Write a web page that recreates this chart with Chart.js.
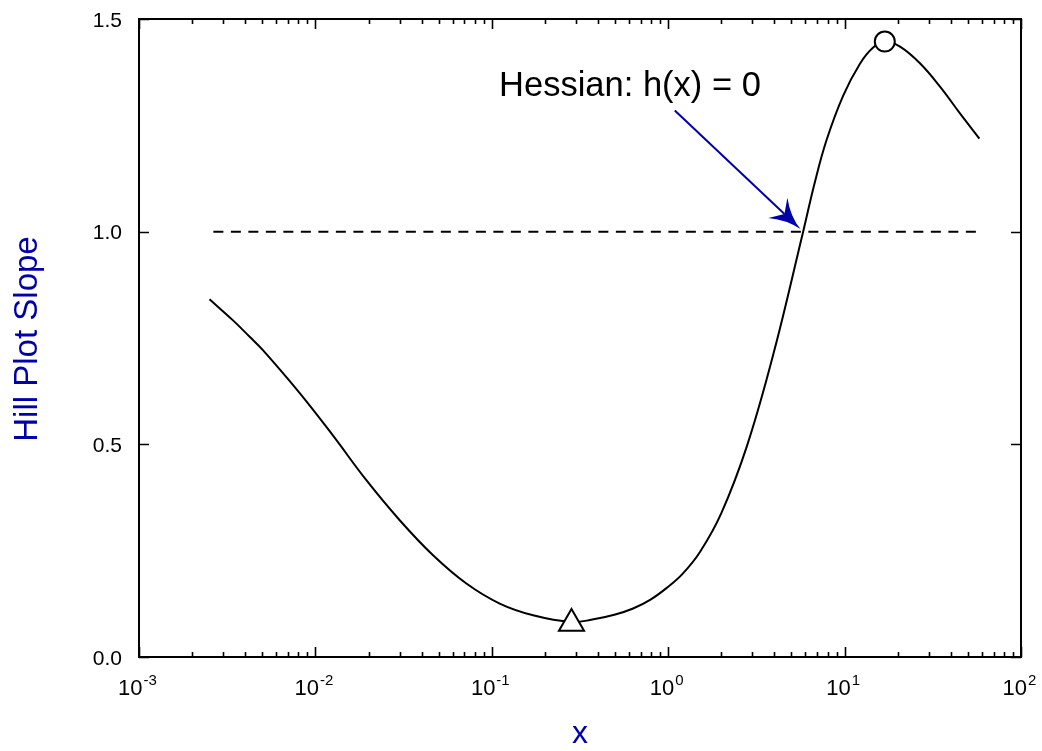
<!DOCTYPE html>
<html>
<head>
<meta charset="utf-8">
<script src="https://cdn.jsdelivr.net/npm/chart.js@4.4.1/dist/chart.umd.min.js"></script>
<style>
  html, body { margin: 0; padding: 0; background: #fff; }
  #wrap { width: 1042px; height: 751px; }
</style>
</head>
<body>
<div id="wrap"><canvas id="myChart" width="1042" height="751"></canvas></div>
<script>
// curve (x on log axis)
const xValues = [0.00251, 0.0034, 0.00424, 0.00504, 0.00813, 0.01256, 0.01945, 0.03006, 0.04645, 0.07178,
                 0.1109, 0.1714, 0.2831, 0.3715, 0.501, 0.6324, 0.794, 0.977, 1.202, 1.514,
                 1.995, 2.80, 3.98, 5.82, 6.76, 7.91, 9.82, 12.22, 14.52, 16.94,
                 20.61, 26.73, 34.75, 45.08, 58.08];
const yValues = [0.841, 0.792, 0.753, 0.7215, 0.621, 0.521, 0.4157, 0.3216, 0.2392, 0.1727,
                 0.1256, 0.0981, 0.0823, 0.088, 0.100, 0.114, 0.135, 0.162, 0.195, 0.247,
                 0.337, 0.497, 0.718, 1.000, 1.114, 1.216, 1.320, 1.395, 1.433, 1.447,
                 1.435, 1.396, 1.341, 1.278, 1.219];

// dashed reference line h = 1
const refX = [0.00264, 58.5];
const refY = [1.0, 1.0];

// markers
const minPoint = [0.283, 0.079];
const maxPoint = [16.9, 1.447];

// axes
const xTicks = [0.001, 0.01, 0.1, 1, 10, 100];
const xExponents = ['-3', '-2', '-1', '0', '1', '2'];
const yTicks = [0.0, 0.5, 1.0, 1.5];
const yTickLabels = ['0.0', '0.5', '1.0', '1.5'];

// annotation
const noteText = 'Hessian: h(x) = 0';
const notePos = [0.11, 1.32];
const arrowFrom = [1.09, 1.285];
const arrowTo = [5.62, 1.006];

const xTitle = 'x';
const yTitle = 'Hill Plot Slope';

const FONT = '"Liberation Sans", Arial, Helvetica, sans-serif';
const BLUE = '#0000a8';

function pts(xs, ys) {
    return xs.map(function(x, i){ return {x: x, y: ys[i]}; });
}

const decorations = {
    id: 'decorations',
    afterDatasetsDraw(chart) {
        const ctx = chart.ctx;
        const a = chart.chartArea;
        const xs = chart.scales.x;
        const ys = chart.scales.y;
        ctx.save();

        // frame
        ctx.strokeStyle = '#000';
        ctx.lineWidth = 2;
        ctx.strokeRect(a.left, a.top, a.right - a.left, a.bottom - a.top);

        // x ticks (major + minor), bottom and top, inward
        ctx.lineWidth = 1.6;
        ctx.beginPath();
        for (let d = -3; d <= 2; d++) {
            for (let k = 1; k <= 9; k++) {
                if (d === 2 && k > 1) break;
                const v = k * Math.pow(10, d);
                const px = Math.round(xs.getPixelForValue(v)) + 0.5;
                const len = (k === 1) ? 10 : 5;
                ctx.moveTo(px, a.bottom);
                ctx.lineTo(px, a.bottom - len);
                ctx.moveTo(px, a.top);
                ctx.lineTo(px, a.top + len);
            }
        }
        // y ticks, left and right
        yTicks.forEach(function(v){
            const py = Math.round(ys.getPixelForValue(v)) + 0.5;
            ctx.moveTo(a.left, py);
            ctx.lineTo(a.left + 10, py);
            ctx.moveTo(a.right, py);
            ctx.lineTo(a.right - 10, py);
        });
        ctx.stroke();

        // y tick labels
        ctx.fillStyle = '#000';
        ctx.font = '21px ' + FONT;
        ctx.textAlign = 'right';
        ctx.textBaseline = 'alphabetic';
        yTicks.forEach(function(v, i){
            const py = ys.getPixelForValue(v);
            ctx.fillText(yTickLabels[i], a.left - 17, py + 7.5);
        });

        // x tick labels: 10 with raised exponent
        ctx.textAlign = 'left';
        xTicks.forEach(function(v, i){
            const px = xs.getPixelForValue(v);
            ctx.font = '22px ' + FONT;
            const w1 = ctx.measureText('10').width;
            ctx.font = '15px ' + FONT;
            const w2 = ctx.measureText(xExponents[i]).width;
            const x0 = px - (w1 + w2) / 2 - 2;
            ctx.font = '22px ' + FONT;
            ctx.fillText('10', x0, a.bottom + 38);
            ctx.font = '15px ' + FONT;
            ctx.fillText(xExponents[i], x0 + w1 + 1, a.bottom + 28);
        });

        // axis titles
        ctx.fillStyle = BLUE;
        ctx.font = '32px ' + FONT;
        ctx.textAlign = 'center';
        ctx.fillText(xTitle, (a.left + a.right) / 2, a.bottom + 86);
        ctx.save();
        ctx.translate(37, (a.top + a.bottom) / 2 + 1);
        ctx.rotate(-Math.PI / 2);
        ctx.font = '33px ' + FONT;
        ctx.fillText(yTitle, 0, 0);
        ctx.restore();

        // annotation text
        ctx.fillStyle = '#000';
        ctx.font = '34.5px ' + FONT;
        ctx.textAlign = 'left';
        ctx.fillText(noteText, xs.getPixelForValue(notePos[0]), ys.getPixelForValue(notePos[1]));

        // arrow
        const x1 = xs.getPixelForValue(arrowFrom[0]), y1 = ys.getPixelForValue(arrowFrom[1]);
        const x2 = xs.getPixelForValue(arrowTo[0]), y2 = ys.getPixelForValue(arrowTo[1]);
        const ang = Math.atan2(y2 - y1, x2 - x1);
        const headLen = 34, spread = 0.42, notch = 22;
        ctx.strokeStyle = BLUE;
        ctx.fillStyle = BLUE;
        ctx.lineWidth = 2;
        ctx.beginPath();
        ctx.moveTo(x1, y1);
        ctx.lineTo(x2 - Math.cos(ang) * notch, y2 - Math.sin(ang) * notch);
        ctx.stroke();
        const b1x = x2 - headLen * Math.cos(ang - spread), b1y = y2 - headLen * Math.sin(ang - spread);
        const b2x = x2 - headLen * Math.cos(ang + spread), b2y = y2 - headLen * Math.sin(ang + spread);
        const nx = x2 - notch * Math.cos(ang), ny = y2 - notch * Math.sin(ang);
        const c1x = x2 - 16 * Math.cos(ang - 0.13), c1y = y2 - 16 * Math.sin(ang - 0.13);
        const c2x = x2 - 16 * Math.cos(ang + 0.13), c2y = y2 - 16 * Math.sin(ang + 0.13);
        ctx.beginPath();
        ctx.moveTo(x2, y2);
        ctx.quadraticCurveTo(c1x, c1y, b1x, b1y);
        ctx.lineTo(nx, ny);
        ctx.lineTo(b2x, b2y);
        ctx.quadraticCurveTo(c2x, c2y, x2, y2);
        ctx.closePath();
        ctx.fill();

        ctx.restore();
    }
};

const ctx = document.getElementById('myChart').getContext('2d');
const myChart = new Chart(ctx, {
    type: 'line',
    data: {
        datasets: [
            {
                label: 'min',
                data: [{x: minPoint[0], y: minPoint[1]}],
                showLine: false,
                pointStyle: 'triangle',
                pointRadius: 14.5,
                pointBackgroundColor: '#fff',
                pointBorderColor: '#000',
                pointBorderWidth: 2,
                order: 0
            },
            {
                label: 'max',
                data: [{x: maxPoint[0], y: maxPoint[1]}],
                showLine: false,
                pointStyle: 'circle',
                pointRadius: 10,
                pointBackgroundColor: '#fff',
                pointBorderColor: '#000',
                pointBorderWidth: 2,
                order: 0
            },
            {
                label: 'Hill slope',
                data: pts(xValues, yValues),
                borderColor: '#000',
                borderWidth: 2,
                pointRadius: 0,
                tension: 0.4,
                fill: false,
                order: 1
            },
            {
                label: 'h = 1',
                data: pts(refX, refY),
                borderColor: '#000',
                borderWidth: 2,
                borderDash: [10, 7.5],
                pointRadius: 0,
                fill: false,
                order: 2
            }
        ]
    },
    options: {
        responsive: false,
        animation: false,
        events: [],
        layout: { padding: { left: 139, right: 21, top: 19, bottom: 94 } },
        plugins: {
            legend: { display: false },
            tooltip: { enabled: false }
        },
        scales: {
            x: {
                type: 'logarithmic',
                min: 0.001,
                max: 100,
                display: false
            },
            y: {
                type: 'linear',
                min: 0,
                max: 1.5,
                display: false
            }
        }
    },
    plugins: [decorations]
});
</script>
</body>
</html>
